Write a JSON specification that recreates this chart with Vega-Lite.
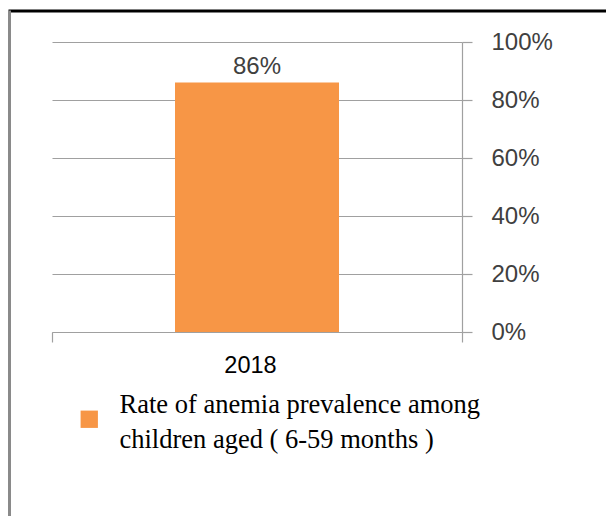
{
  "$schema": "https://vega.github.io/schema/vega-lite/v6.json",
  "width": 410,
  "height": 290,
  "autosize": {"type": "none"},
  "padding": {"left": 52, "top": 42, "right": 144, "bottom": 184},
  "background": "white",
  "config": {"view": {"stroke": null}},
  "data": {
    "values": [
      {"year": "2018", "rate": 0.86, "series": "Rate of anemia prevalence  among\nchildren aged ( 6-59 months )"}
    ]
  },
  "layer": [
    {
      "layer": [
        {
          "mark": {"type": "bar", "width": {"band": 0.4}},
          "encoding": {
            "x": {
              "field": "year",
              "type": "nominal",
              "scale": {"paddingInner": 0, "paddingOuter": 0},
              "axis": {
                "orient": "bottom",
                "title": null,
                "grid": false,
                "tickBand": "extent",
                "tickSize": 10,
                "tickColor": "#a0a0a0",
                "tickWidth": 1.2,
                "domainColor": "#a0a0a0",
                "domainWidth": 1.2,
                "labelAngle": 0,
                "labelFont": "Liberation Sans",
                "labelFontSize": 23.5,
                "labelColor": "#000000",
                "labelPadding": 11,
                "labelOffset": -7
              }
            },
            "y": {
              "field": "rate",
              "type": "quantitative",
              "scale": {"domain": [0, 1]},
              "axis": {
                "orient": "right",
                "title": null,
                "values": [0, 0.2, 0.4, 0.6, 0.8, 1],
                "format": ".0%",
                "grid": true,
                "gridColor": "#a0a0a0",
                "gridWidth": 1.2,
                "domainColor": "#a0a0a0",
                "domainWidth": 1.2,
                "tickColor": "#a0a0a0",
                "tickWidth": 1.2,
                "tickSize": 10,
                "labelFont": "Liberation Sans",
                "labelFontSize": 24,
                "labelColor": "#404040",
                "labelPadding": 19,
                "labelFlush": false
              }
            },
            "color": {
              "field": "series",
              "type": "nominal",
              "scale": {"range": ["#F79646"]},
              "legend": {
                "orient": "none",
                "legendX": 24,
                "legendY": 364,
                "title": null,
                "padding": 0,
                "symbolType": "square",
                "symbolSize": 300,
                "symbolStrokeWidth": 0,
                "labelFont": "Liberation Serif",
                "labelFontSize": 26.5,
                "labelColor": "#000000",
                "labelLimit": 600,
                "labelOffset": 17,
                "labelExpr": "split(datum.value, '\\n')",
                "encode": {"labels": {"update": {"lineHeight": {"value": 35}, "dy": {"value": -14}}}}
              }
            }
          }
        },
        {
          "mark": {"type": "text", "dy": -9, "baseline": "alphabetic", "font": "Liberation Sans", "fontSize": 24, "color": "#404040"},
          "encoding": {
            "x": {"field": "year", "type": "nominal"},
            "y": {"field": "rate", "type": "quantitative"},
            "text": {"field": "rate", "type": "quantitative", "format": ".0%"}
          }
        }
      ]
    },
    {
      "mark": {"type": "point", "opacity": 0},
      "encoding": {
        "x": {
          "field": "rate",
          "type": "quantitative",
          "scale": {"domain": [0, 1], "range": [-44, 560]},
          "axis": {"orient": "top", "offset": 31.5, "domainColor": "#000000", "domainWidth": 3, "labels": false, "ticks": false, "grid": false, "title": null}
        },
        "y": {
          "field": "rate",
          "type": "quantitative",
          "scale": {"domain": [0, 1], "range": [480, -32]},
          "axis": {"orient": "left", "offset": 43, "domainColor": "#8a8a8a", "domainWidth": 3, "labels": false, "ticks": false, "grid": false, "title": null}
        }
      }
    }
  ],
  "resolve": {
    "scale": {"x": "independent", "y": "independent"},
    "axis": {"x": "independent", "y": "independent"}
  }
}
